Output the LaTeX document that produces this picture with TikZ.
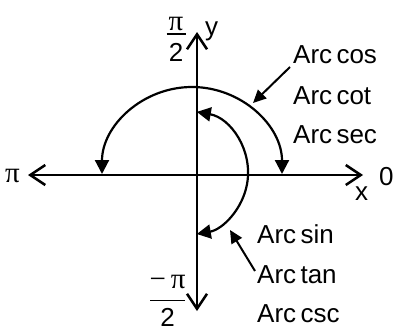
\documentclass[tikz,border=0pt]{standalone}
\usepackage{fontspec}
\setmainfont{Liberation Sans}
\newfontfamily\grkfont{Liberation Serif}
\newcommand{\grk}{\grkfont\fontsize{29}{31}\selectfont}
\usetikzlibrary{arrows.meta}
\newcommand{\stackfrac}[5]{% num, den, kern above bar, kern below bar, bar width
 \vbox{\offinterlineskip\halign{\hfil##\hfil\cr #1\cr\noalign{\kern#3}\rule{#5}{1.6pt}\cr\noalign{\kern#4}#2\cr}}}
\begin{document}
\begin{tikzpicture}[x=1pt,y=1pt,
  axis/.style={line width=2.5pt, {Straight Barb[length=15pt,width=20pt]}-{Straight Barb[length=15pt,width=20pt]}},
  arcline/.style={line width=2.2pt, {Triangle[length=14pt,width=14pt]}-{Triangle[length=14pt,width=14pt]}},
  pointer/.style={line width=2pt, -{Triangle[length=13pt,width=12pt]}},
  lbl/.style={inner sep=0pt, font=\fontsize{26}{31}\selectfont}]
\useasboundingbox (0,0) rectangle (395,333);
% axes
\coordinate (xl) at (28,158);
\coordinate (xr) at (363,158);
\coordinate (yb) at (197,22);
\coordinate (yt) at (197,301);
\draw[axis] (xl) -- (xr);
\draw[axis] (yb) -- (yt);
% arcs
\coordinate (oL) at (102,159);
\draw[arcline] (oL) arc[start angle=180,end angle=0,x radius=90pt,y radius=87pt];
\coordinate (iT) at (196.8,221.1);
\draw[arcline] (iT) arc[start angle=80,end angle=-80,radius=62pt];
% labels
\node[lbl, anchor=base west] (acos) at (293,270) {Arc\,cos};
\node[lbl, anchor=base west] (acot) at (293,229) {Arc\,cot};
\node[lbl, anchor=base west] (asec) at (293,190) {Arc\,sec};
\node[lbl, anchor=base west] (asin) at (257,90) {Arc\,sin};
\node[lbl, anchor=base west] (atan) at (257,50) {Arc\,tan};
\node[lbl, anchor=base west] (acsc) at (257,11) {Arc\,csc};
% pointers
\coordinate (pc1) at (290,266);
\coordinate (pc2) at (253,230);
\draw[pointer] (pc1) -- (pc2);
\coordinate (ps1) at (255,62);
\coordinate (ps2) at (230,103);
\draw[pointer] (ps1) -- (ps2);
% axis labels
\node[lbl, anchor=base west] (ylab) at (205,298) {y};
\node[lbl, anchor=base west] (xlab) at (355,133) {x};
\node[lbl, anchor=base west] (zero) at (379,148) {0};
\node[lbl, anchor=base west] (pilab) at (5,151) {{\grk π}};
\node[lbl, anchor=north] (pihalf) at (176,316) {\stackfrac{{\grk π}}{2}{2.5pt}{8pt}{19pt}};
\node[lbl, anchor=north] (mpihalf) at (167.5,58) {\stackfrac{{\grk −\,π}}{2}{11pt}{7pt}{35pt}};
\end{tikzpicture}
\end{document}
